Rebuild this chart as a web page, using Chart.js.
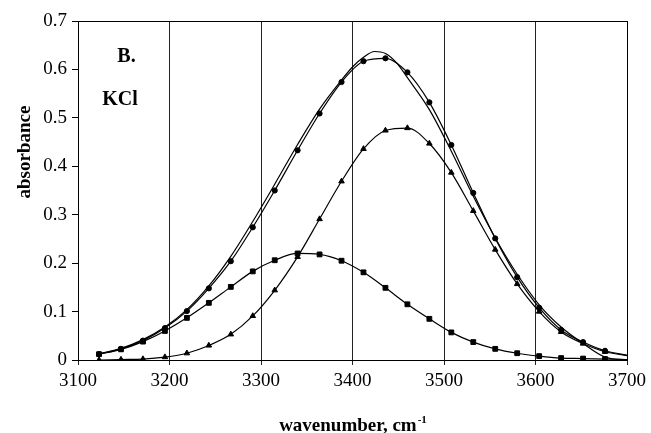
<!DOCTYPE html>
<html>
<head>
<meta charset="utf-8">
<script src="https://cdn.jsdelivr.net/npm/chart.js@4.4.1/dist/chart.umd.min.js"></script>
<style>
  html, body { margin: 0; padding: 0; background: #fff; }
  canvas { display: block; }
</style>
</head>
<body>
<canvas id="chart" width="651" height="433"></canvas>
<script>
// measured points (last entry at 3700 is only the end of the smoothed line, no marker)
const wavenumber = [3123, 3147, 3171, 3195, 3219, 3243, 3267, 3291, 3315, 3340, 3364, 3388,
  3412, 3436, 3460, 3484, 3508, 3532, 3556, 3580, 3604, 3628, 3652, 3676, 3700]
const total = [0.012, 0.023, 0.040, 0.066, 0.101, 0.148, 0.204, 0.274, 0.350, 0.433, 0.509, 0.574,
  0.617, 0.623, 0.594, 0.532, 0.444, 0.345, 0.251, 0.171, 0.108, 0.062, 0.037, 0.019, 0.010]
const highBand = [0.000, 0.001, 0.002, 0.006, 0.014, 0.030, 0.053, 0.091, 0.144, 0.213, 0.291, 0.369,
  0.436, 0.474, 0.479, 0.447, 0.387, 0.308, 0.228, 0.157, 0.100, 0.058, 0.034, 0.017, 0.009]
const lowBand = [0.012, 0.022, 0.038, 0.060, 0.087, 0.118, 0.151, 0.183, 0.206, 0.220, 0.218, 0.205,
  0.181, 0.149, 0.115, 0.085, 0.057, 0.037, 0.023, 0.014, 0.008, 0.004, 0.003, 0.002, 0.001]
const markerCount = 24

// plain curve without markers
const fitWavenumber = [3123, 3147, 3171, 3195, 3219, 3243, 3267, 3291, 3315, 3340, 3364, 3388, 3400,
  3412, 3424, 3436, 3448, 3460, 3484, 3508, 3532, 3556, 3580, 3604, 3628, 3652, 3676, 3700]
const fit = [0.013, 0.024, 0.042, 0.068, 0.104, 0.153, 0.214, 0.286, 0.363, 0.445, 0.518, 0.578, 0.605,
  0.625, 0.637, 0.633, 0.614, 0.583, 0.517, 0.431, 0.338, 0.252, 0.177, 0.114, 0.068, 0.034, 0.006, 0.000]

const yTicks = [0, 0.1, 0.2, 0.3, 0.4, 0.5, 0.6, 0.7]
const xTitle = 'wavenumber, cm'
const xTitleSup = '-1'
const yTitle = 'absorbance'
const notes = [
  { text: 'B.', x: 3153, y: 0.625 },
  { text: 'KCl', x: 3146, y: 0.538 }
]

const SERIF = '"Liberation Serif", "Times New Roman", serif'

function points(xs, ys) {
  return xs.map((x, i) => ({ x: x, y: ys[i] }))
}

function markerSize(r) {
  return ctx => ctx.dataIndex < markerCount ? r : 0
}

function series(ys, style, r) {
  return {
    data: points(wavenumber, ys),
    borderColor: '#000',
    backgroundColor: '#000',
    borderWidth: 1.2,
    pointStyle: style,
    pointRadius: markerSize(r),
    pointBorderWidth: 1,
    cubicInterpolationMode: 'monotone'
  }
}

const extras = {
  id: 'extras',
  afterDraw(chart) {
    const c = chart.ctx
    const a = chart.chartArea
    const xs = chart.scales.x
    const ys = chart.scales.y
    c.save()
    // frame top and right
    c.strokeStyle = '#000'
    c.lineWidth = 1
    c.beginPath()
    c.moveTo(a.left, a.top + 0.5)
    c.lineTo(a.right + 0.5, a.top + 0.5)
    c.lineTo(a.right + 0.5, a.bottom)
    c.stroke()

    c.fillStyle = '#000'
    c.font = 'bold 20px ' + SERIF
    c.textAlign = 'center'
    c.textBaseline = 'middle'
    notes.forEach(n => c.fillText(n.text, xs.getPixelForValue(n.x), ys.getPixelForValue(n.y)))

    // y title
    c.font = 'bold 19px ' + SERIF
    c.save()
    c.translate(25, 152)
    c.rotate(-Math.PI / 2)
    c.fillText(yTitle, 0, 0)
    c.restore()

    // x title with superscript
    c.textAlign = 'left'
    c.textBaseline = 'alphabetic'
    c.font = 'bold 19px ' + SERIF
    const w1 = c.measureText(xTitle).width
    c.font = 'bold 11px ' + SERIF
    const w2 = c.measureText(xTitleSup).width
    const x0 = (a.left + a.right) / 2 - (w1 + w2) / 2
    c.font = 'bold 19px ' + SERIF
    c.fillText(xTitle, x0, 431)
    c.font = 'bold 11px ' + SERIF
    c.fillText(xTitleSup, x0 + w1 + 1, 423)
    c.restore()
  }
}

new Chart(document.getElementById('chart'), {
  type: 'line',
  data: {
    datasets: [
      series(total, 'circle', 2.6),
      {
        data: points(fitWavenumber, fit),
        borderColor: '#000',
        borderWidth: 1.2,
        pointRadius: 0,
        cubicInterpolationMode: 'monotone'
      },
      series(highBand, 'triangle', 3.2),
      series(lowBand, 'rect', 3.4)
    ]
  },
  options: {
    responsive: false,
    animation: false,
    layout: { padding: { top: 21, right: 21, left: 0, bottom: 0 } },
    plugins: { legend: { display: false }, tooltip: { enabled: false } },
    scales: {
      x: {
        type: 'linear',
        min: 3100,
        max: 3700,
        afterFit: s => { s.height = 73 },
        ticks: {
          stepSize: 100,
          color: '#000',
          font: { family: SERIF, size: 19 },
          padding: 5,
          callback: v => String(v)
        },
        grid: { color: '#222', lineWidth: 1, tickLength: 5 },
        border: { color: '#000', width: 1 }
      },
      y: {
        min: 0,
        max: 0.7,
        afterFit: s => { s.width = 78 },
        afterBuildTicks: s => { s.ticks = yTicks.map(v => ({ value: v })) },
        ticks: { color: '#000', font: { family: SERIF, size: 19 }, padding: 5 },
        grid: { drawOnChartArea: false, color: '#000', tickLength: 6 },
        border: { color: '#000', width: 1 }
      }
    }
  },
  plugins: [extras]
})
</script>
</body>
</html>
